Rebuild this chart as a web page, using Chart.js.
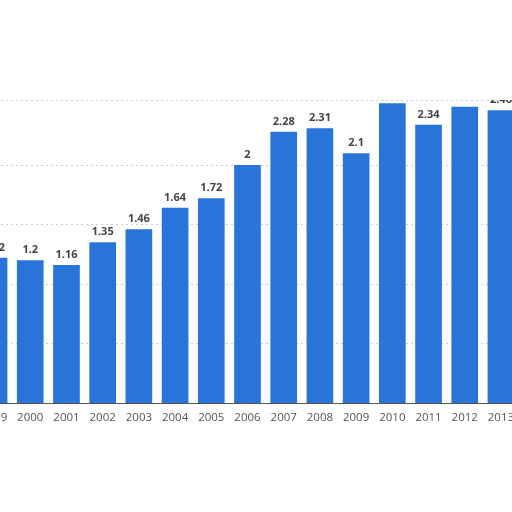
<!DOCTYPE html>
<html>
<head>
<meta charset="utf-8">
<script src="https://cdn.jsdelivr.net/npm/chart.js@4.4.1/dist/chart.umd.min.js"></script>
<style>
  html, body { margin: 0; padding: 0; background: #fff; overflow: hidden; }
  #wrap { position: absolute; left: -27px; top: 0; width: 549px; height: 512px; }
</style>
</head>
<body>
<div id="wrap"><canvas id="chart"></canvas></div>
<script>
// Years and values
const years = ['1999', '2000', '2001', '2002', '2003', '2004', '2005', '2006',
               '2007', '2008', '2009', '2010', '2011', '2012', '2013'];
const values = [1.22, 1.2, 1.16, 1.35, 1.46, 1.64, 1.72, 2, 2.28, 2.31, 2.1, 2.52, 2.34, 2.49, 2.46];

// Draw the value above each bar, clipped to the plot area
const valueLabels = {
    id: 'valueLabels',
    afterDatasetsDraw(chart) {
        const ctx = chart.ctx;
        const area = chart.chartArea;
        const meta = chart.getDatasetMeta(0);
        ctx.save();
        ctx.beginPath();
        ctx.rect(area.left, area.top, area.right - area.left, area.bottom - area.top);
        ctx.clip();
        ctx.font = 'bold 11px "Open Sans", sans-serif';
        ctx.fillStyle = '#444';
        ctx.textAlign = 'center';
        ctx.textBaseline = 'bottom';
        meta.data.forEach((bar, i) => {
            ctx.fillText(String(values[i]), bar.x, bar.y - 5);
        });
        ctx.restore();
    }
};

new Chart(document.getElementById('chart'), {
    type: 'bar',
    data: {
        labels: years,
        datasets: [{
            data: values,
            backgroundColor: '#2874d9',
            barThickness: 26
        }]
    },
    options: {
        responsive: true,
        maintainAspectRatio: false,
        animation: false,
        layout: { padding: { top: 100, bottom: 79, left: 0, right: 0 } },
        plugins: {
            legend: { display: false },
            tooltip: { enabled: false }
        },
        scales: {
            x: {
                grid: { display: false, drawTicks: false },
                border: { display: true, color: '#555', width: 1 },
                ticks: {
                    color: '#555',
                    padding: 8,
                    font: { family: '"Open Sans", sans-serif', size: 11.5 }
                }
            },
            y: {
                min: 0,
                max: 2.55,
                afterFit: scale => { scale.width = 0; },
                ticks: { display: false, stepSize: 0.5 },
                border: { display: false, dash: [2, 3] },
                grid: { color: '#cccccc', drawTicks: false }
            }
        }
    },
    plugins: [valueLabels]
});
</script>
</body>
</html>
